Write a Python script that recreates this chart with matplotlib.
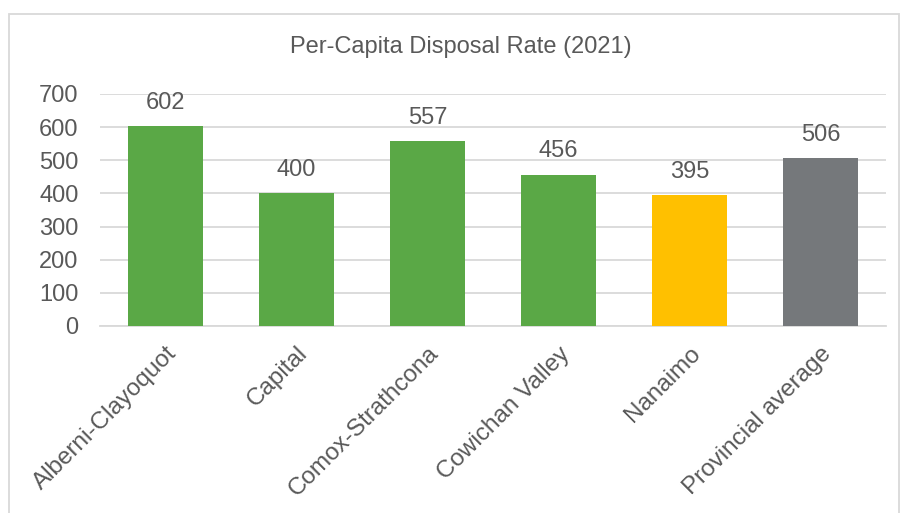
import numpy as np
import matplotlib
matplotlib.use('Agg')
import matplotlib.pyplot as plt
from matplotlib.patches import Rectangle

regions = ['Alberni-Clayoquot', 'Capital', 'Comox-Strathcona', 'Cowichan Valley',
           'Nanaimo', 'Provincial average']
rates = [602, 400, 557, 456, 395, 506]
bar_colors = ['#5AA846', '#5AA846', '#5AA846', '#5AA846', '#FFC000', '#75787B']

plt.rcParams['font.family'] = ['Liberation Sans', 'DejaVu Sans']
text_col = '#595959'

fig = plt.figure(figsize=(9.02, 5.13), dpi=100)
ax = fig.add_axes([100 / 902, 1 - 326 / 513, 786 / 902, 232 / 513])

X = np.arange(len(regions))
ax.bar(X, rates, width=0.573, color=bar_colors, zorder=3)
for x, v in zip(X, rates):
    ax.annotate(str(v), (x, v), xytext=(0, 9), textcoords='offset points',
                ha='center', va='bottom', fontsize=17, color=text_col)

ax.set_xlim(-0.5, len(regions) - 0.5)
ax.set_ylim(0, 700)
ax.set_yticks(range(0, 701, 100))
ax.yaxis.grid(True, color='#D9D9D9', linewidth=1.3, zorder=0)
for s in ['top', 'right', 'left']:
    ax.spines[s].set_visible(False)
ax.spines['bottom'].set_color('#D9D9D9')
ax.spines['bottom'].set_linewidth(1.3)
ax.tick_params(axis='both', length=0, labelsize=17, labelcolor=text_col)
ax.tick_params(axis='y', pad=15.5)
ax.set_xticks(X)
ax.set_xticklabels(regions, rotation=45, ha='right', va='top', rotation_mode='anchor',
                   fontsize=17.5)
ax.tick_params(axis='x', pad=12)

fig.text(461 / 902, 1 - 47 / 513, 'Per-Capita Disposal Rate (2021)', ha='center', va='center',
         fontsize=17, color=text_col)

# light frame round the chart area
fig.patches.append(Rectangle((8.5 / 902, -0.05), 890 / 902, 1 - 13.5 / 513 + 0.05,
                             transform=fig.transFigure, fill=False,
                             edgecolor='#D9D9D9', linewidth=1.3))

plt.savefig('out.png', dpi=100)
